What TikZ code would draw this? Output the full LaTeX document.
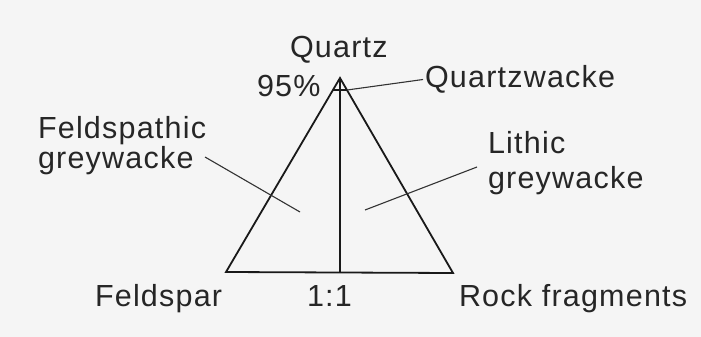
\documentclass[tikz,border=0pt]{standalone}
\usepackage{fontspec}
\setmainfont[LetterSpace=4]{Liberation Sans}
\begin{document}
\begin{tikzpicture}[x=1pt,y=-1pt,
  lbl/.style={anchor=base west,inner sep=0pt,outer sep=0pt,text=black!85,font=\fontsize{30.5}{30.5}\selectfont},
  edge/.style={draw=black!90,line width=1.8pt,line join=miter},
  leader/.style={draw=black!80,line width=1.1pt}]
\fill[black!4] (0,0) rectangle (701,337);
\useasboundingbox (0,0) rectangle (701,337);
% triangle corners
\coordinate (Q) at (340,78);
\coordinate (F) at (226,272);
\coordinate (R) at (453,273);
\coordinate (M) at (340,272.5);
\coordinate (bl) at (332.9,90);
\coordinate (br) at (347.1,90);
\draw[edge] (F) -- (Q) -- (R) -- cycle;
\draw[edge] (Q) -- (M);
\draw[edge, line width=1.4pt] (bl) -- (br);
% labels
\node[lbl] (quartz) at (290,57) {Quartz};
\node[lbl] (pct) at (257,96) {95\%};
\node[lbl] (qw) at (425,88) {Quartzwacke};
\node[lbl] (fg1) at (38,138) {Feldspathic};
\node[lbl] (fg2) at (38,168) {greywacke};
\node[lbl] (lg1) at (488,153) {Lithic};
\node[lbl] (lg2) at (488,188) {greywacke};
\node[lbl] (fs) at (95,306) {Feldspar};
\node[lbl] (ratio) at (307,306) {1:1};
\node[lbl] (rf) at (459,306) {Rock fragments};
% leaders
\coordinate (qwend) at (423,79.5);
\draw[leader] (br) -- (qwend);
\coordinate (fgs) at (205,157);
\coordinate (fge) at (300,212);
\draw[leader] (fgs) -- (fge);
\coordinate (lgs) at (477,167);
\coordinate (lge) at (365,210);
\draw[leader] (lgs) -- (lge);
\end{tikzpicture}
\end{document}
